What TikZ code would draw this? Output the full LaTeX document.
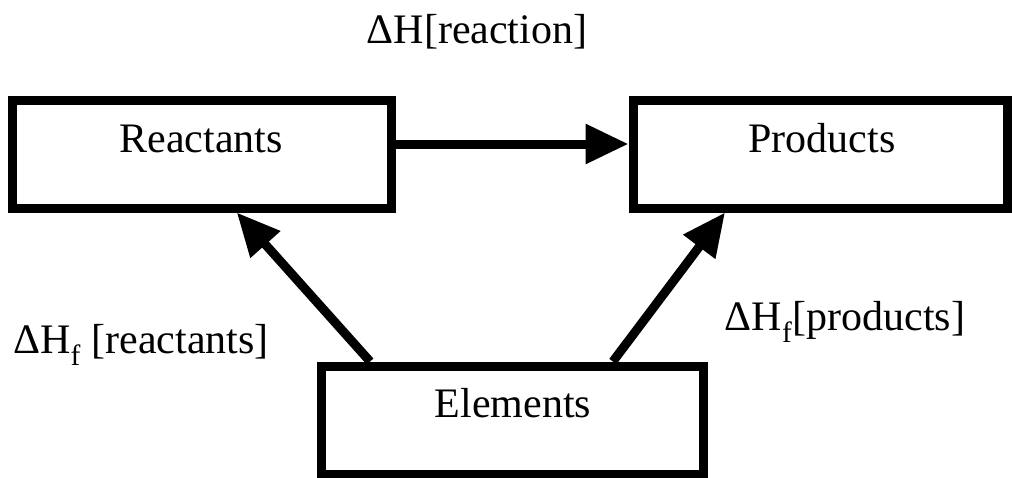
\documentclass[tikz,border=0pt]{standalone}
\usepackage{fontspec}
\setmainfont{Liberation Serif}
\usetikzlibrary{arrows.meta,calc}
\begin{document}
\begin{tikzpicture}[x=1pt,y=-1pt,
  box/.style={draw=black, line width=9pt, inner sep=0pt, minimum height=108pt},
  txt/.style={inner sep=0pt, font=\fontsize{42}{50}\selectfont, anchor=base},
  arr/.style={line width=9pt, -{Triangle[length=43pt,width=38pt]}}]
\useasboundingbox[fill=white] (0,0) rectangle (1012,477);
\node[box, minimum width=379pt] (re) at (201.5,154) {};
\node[box, minimum width=374pt] (pr) at (820,154) {};
\node[box, minimum width=382pt] (el) at (512,420) {};
\node[txt] (retxt) at (201,152) {Reactants};
\node[txt] (prtxt) at (822,152) {Products};
\node[txt] (eltxt) at (513,417) {Elements};
\node[txt] (dhr) at (477,43) {ΔH[reaction]};
\node[txt] (dhre) at (141,353) {ΔH\textsubscript{f} [reactants]};
\node[txt] (dhpr) at (845,330) {ΔH\textsubscript{f}[products]};
\draw[arr] ($(re.east)+(0,-10)$) -- ($(pr.west)+(0,-10)$);
\draw[arr] ($(el.north west)!0.137!(el.north east)$) -- ($(re.south west)!0.591!(re.south east)$);
\draw[arr] ($(el.north west)!0.758!(el.north east)$) -- ($(pr.south west)!0.252!(pr.south east)$);
\end{tikzpicture}
\end{document}
